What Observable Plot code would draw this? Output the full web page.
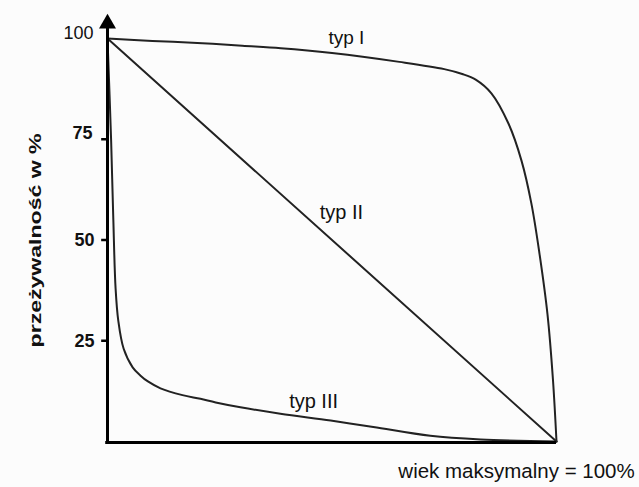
<!DOCTYPE html>
<html>
<head>
<meta charset="utf-8">
<script src="https://cdn.jsdelivr.net/npm/d3@7"></script>
<script src="https://cdn.jsdelivr.net/npm/@observablehq/plot@0.6"></script>
<style>
  html, body { margin: 0; padding: 0; background: #fcfcfc; }
  #chart svg { display: block; }
</style>
</head>
<body>
<div id="chart"></div>
<script>
// x: age as % of maximum age, y: survival %
const typeIx = [0, 10, 20, 30, 38.6, 50, 65, 75, 79, 82, 85.5, 89.3, 92.2, 94.4, 96.2, 98.0, 99.2, 100];
const typeIy = [100, 99.4, 98.9, 98.2, 97.6, 96.4, 94.2, 92.4, 91.2, 89.8, 86.4, 78.9, 69.7, 59.1, 46.7, 31.5, 15.5, 0];

const typeIIx = [0, 100];
const typeIIy = [100, 0];

const typeIIIx = [0, 0.8, 1.3, 1.8, 2.4, 3.6, 5.6, 7.3, 9, 11.8, 16.7, 20.7, 24.1, 29.6, 38.5, 49.7, 59.2, 71.9, 83.1, 100];
const typeIIIy = [100, 75, 55, 38, 30, 23, 18.4, 16.4, 14.9, 13.2, 11.5, 10.6, 9.7, 8.5, 6.9, 5.2, 3.6, 1.4, 0.5, 0];

const curveNames = ["typ I", "typ II", "typ III"];
const yTickValues = [25, 50, 75, 100];
const yLabel = "przeżywalność w %";
const xLabel = "wiek maksymalny = 100%";

const toRows = (xs, ys, name) => xs.map((x, i) => ({x, y: ys[i], name}));
const curves = [
  toRows(typeIx, typeIy, curveNames[0]),
  toRows(typeIIx, typeIIy, curveNames[1]),
  toRows(typeIIIx, typeIIIy, curveNames[2])
];

const font = "'Liberation Sans', Arial, sans-serif";
const ink = "#111";

const plot = Plot.plot({
  width: 639,
  height: 487,
  marginLeft: 107,
  marginRight: 83,
  marginTop: 38,
  marginBottom: 46,
  style: {fontFamily: font, background: "transparent", overflow: "visible"},
  x: {domain: [0, 100], axis: null},
  y: {domain: [0, 100], axis: null},
  marks: [
    // curves
    Plot.line(curves[0], {x: "x", y: "y", curve: "catmull-rom", stroke: "#222", strokeWidth: 2}),
    Plot.line(curves[1], {x: "x", y: "y", stroke: "#222", strokeWidth: 2}),
    Plot.line(curves[2], {x: "x", y: "y", curve: "catmull-rom", stroke: "#222", strokeWidth: 2}),
    // axes
    Plot.ruleY([0], {x1: -0.4, x2: 100, dy: 1, stroke: "#000", strokeWidth: 3}),
    Plot.ruleX([0], {y1: -0.5, y2: 102.8, stroke: "#000", strokeWidth: 3}),
    Plot.dot([0], {x: 0, y: 103.7, symbol: "triangle", r: 6.3, fill: "#000", stroke: "none"}),
    // y ticks
    Plot.ruleY(yTickValues.filter(v => v < 100), {y: d => d, x1: -1.3, x2: 0, stroke: "#000", strokeWidth: 2.5}),
    // y tick labels
    Plot.text(yTickValues.filter(v => v === 100), {x: 0, y: d => d, text: d => String(d), dx: -14, dy: -5, textAnchor: "end", fontSize: 18, fill: ink}),
    Plot.text(yTickValues.filter(v => v === 75), {x: 0, y: d => d, text: d => String(d), dx: -15, dy: -6, textAnchor: "end", fontSize: 18, fontWeight: "bold", fill: ink}),
    Plot.text(yTickValues.filter(v => v < 75), {x: 0, y: d => d, text: d => String(d), dx: -13, dy: 0, textAnchor: "end", fontSize: 18, fontWeight: "bold", fill: ink}),
    // curve labels
    Plot.text([curveNames[0]], {x: 53.2, y: 100.2, text: d => d, fontSize: 19, fill: ink}),
    Plot.text([curveNames[1]], {x: 52.1, y: 56.7, text: d => d, fontSize: 20, fill: ink}),
    Plot.text([curveNames[2]], {x: 45.9, y: 9.9, text: d => d, fontSize: 20, fill: ink}),
    // axis labels
    Plot.text([xLabel], {x: 91.1, y: -7.5, text: d => d, fontSize: 20.5, fill: ink}),
    Plot.text([yLabel], {x: -16, y: 49.9, text: d => d, rotate: -90, fontSize: 17, fontWeight: "bold", fill: ink, className: "ylab"})
  ]
});

document.getElementById("chart").appendChild(plot);
const yl = plot.querySelector(".ylab text");
if (yl) { yl.setAttribute("textLength", "214"); yl.setAttribute("lengthAdjust", "spacingAndGlyphs"); }
</script>
</body>
</html>
